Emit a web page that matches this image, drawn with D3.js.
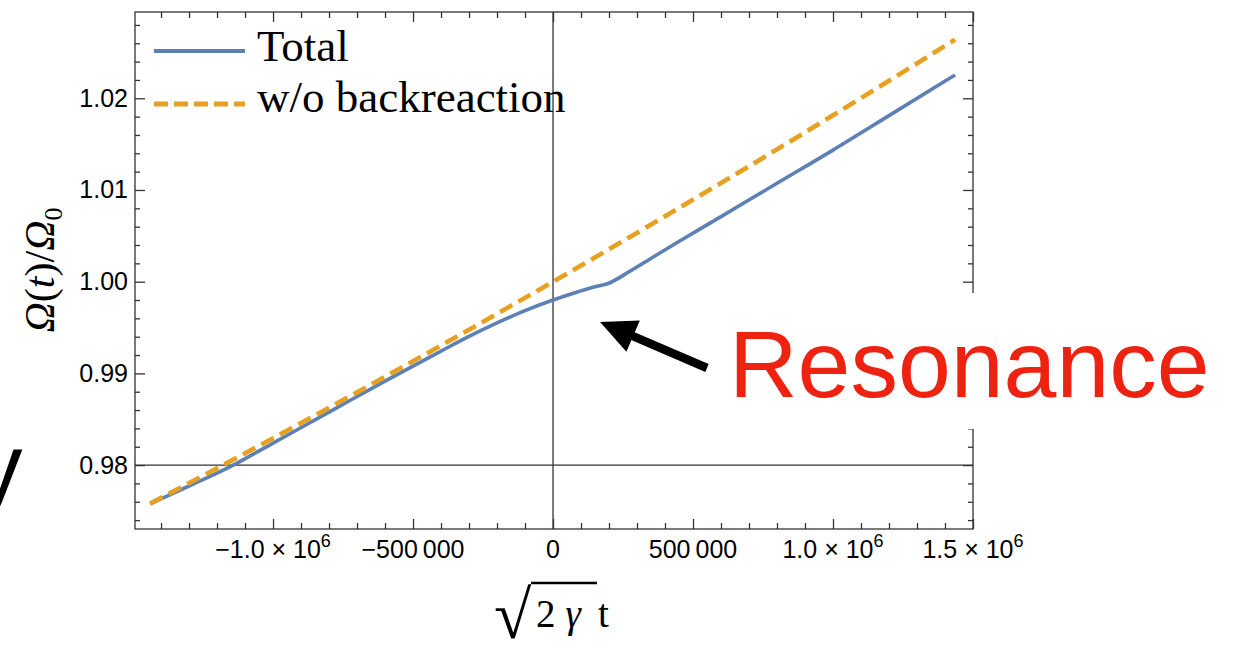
<!DOCTYPE html>
<html>
<head>
<meta charset="utf-8">
<script src="https://cdn.jsdelivr.net/npm/d3@7"></script>
<style>
  html, body { margin: 0; padding: 0; background: #fff; }
  svg { display: block; }
</style>
</head>
<body>
<svg id="chart" width="1240" height="648"></svg>
<script>
// Ω(t)/Ω0 versus √(2γ) t, with and without backreaction
const tTotal = [-1439000, -1300000, -1142000, -1000000, -800000, -600000, -400000, -300000, -200000, -100000, 0, 90000, 150000, 192000, 275000, 358000, 454000, 600000, 800000, 1000000, 1200000, 1436000];
const omegaTotal = [0.97578, 0.97772, 0.98000, 0.98240, 0.98577, 0.98916, 0.99243, 0.99403, 0.99550, 0.99684, 0.99800, 0.99891, 0.99945, 0.99975, 1.00115, 1.00270, 1.00447, 1.00710, 1.01073, 1.01435, 1.01811, 1.02254];

const tFree = [-1439000, -1200000, -1000000, -800000, -600000, -400000, -200000, 0, 200000, 400000, 600000, 800000, 1000000, 1200000, 1436000];
const omegaFree = [0.97580, 0.97965, 0.98293, 0.98626, 0.98963, 0.99304, 0.99650, 1.00000, 1.00354, 1.00713, 1.01076, 1.01443, 1.01815, 1.02191, 1.02640];

const seriesNames = ["Total", "w/o backreaction"];

const xMajorTicks = [-1000000, -500000, 0, 500000, 1000000, 1500000];
const xTickLabels = ["\u22121.0 \u00d7 10^6", "\u2212500\u2009000", "0", "500\u2009000", "1.0 \u00d7 10^6", "1.5 \u00d7 10^6"];
const yMajorTicks = [0.98, 0.99, 1.00, 1.01, 1.02];
const yTickLabels = ["0.98", "0.99", "1.00", "1.01", "1.02"];

// annotation arrow (tail → head) in data units
const arrowFrom = [550000, 0.99059];
const arrowTo = [168000, 0.99561];

const svg = d3.select("#chart");
const frame = { left: 135, right: 973, top: 12, bottom: 529 };

const x = d3.scaleLinear().domain([-1493000, 1500000]).range([frame.left, frame.right]);
const y = d3.scaleLinear().domain([0.97303, 1.02941]).range([frame.bottom, frame.top]);

const frameColor = "#333";
const sansFont = "'Liberation Sans', Arial, Helvetica, sans-serif";
const serifFont = "'Liberation Serif', 'Times New Roman', serif";

// stray glyph from the surrounding slide, cut by the left edge
svg.append("text")
  .attr("x", -25).attr("y", 499)
  .attr("font-family", sansFont).attr("font-size", 95)
  .attr("fill", "#000")
  .text("y");

// minor tick positions
const xMinor = d3.range(-1400000, 1500001, 100000).filter(v => !xMajorTicks.some(m => Math.abs(m - v) < 1));
const yMinor = d3.range(0, 28).map(i => +(0.974 + i * 0.002).toFixed(3)).filter(v => !yMajorTicks.some(m => Math.abs(m - v) < 1e-6));

function styleAxis(g) {
  g.select(".domain").remove();
  g.selectAll(".tick line").attr("stroke", frameColor).attr("stroke-width", 1.3);
}

// ticks on all four sides, pointing inward
const axes = svg.append("g");
axes.append("g").attr("transform", `translate(0,${frame.bottom})`)
  .call(d3.axisBottom(x).tickValues(xMajorTicks).tickSize(-10).tickFormat("")).call(styleAxis);
axes.append("g").attr("transform", `translate(0,${frame.bottom})`)
  .call(d3.axisBottom(x).tickValues(xMinor).tickSize(-6).tickFormat("")).call(styleAxis);
axes.append("g").attr("transform", `translate(0,${frame.top})`)
  .call(d3.axisTop(x).tickValues(xMajorTicks).tickSize(-10).tickFormat("")).call(styleAxis);
axes.append("g").attr("transform", `translate(0,${frame.top})`)
  .call(d3.axisTop(x).tickValues(xMinor).tickSize(-6).tickFormat("")).call(styleAxis);

const yAxisLeft = axes.append("g").attr("transform", `translate(${frame.left},0)`)
  .call(d3.axisLeft(y).tickValues(yMajorTicks).tickSize(-10).tickPadding(7)
    .tickFormat((d, i) => yTickLabels[i])).call(styleAxis);
yAxisLeft.selectAll(".tick text")
  .attr("font-family", sansFont).attr("font-size", 25).attr("fill", "#000");
axes.append("g").attr("transform", `translate(${frame.left},0)`)
  .call(d3.axisLeft(y).tickValues(yMinor).tickSize(-5).tickFormat("")).call(styleAxis);
axes.append("g").attr("transform", `translate(${frame.right},0)`)
  .call(d3.axisRight(y).tickValues(yMajorTicks).tickSize(-10).tickFormat("")).call(styleAxis);
axes.append("g").attr("transform", `translate(${frame.right},0)`)
  .call(d3.axisRight(y).tickValues(yMinor).tickSize(-5).tickFormat("")).call(styleAxis);

// frame
svg.append("rect")
  .attr("x", frame.left).attr("y", frame.top)
  .attr("width", frame.right - frame.left).attr("height", frame.bottom - frame.top)
  .attr("fill", "none").attr("stroke", frameColor).attr("stroke-width", 1.3);

// axes through the origin (0, 0.98)
svg.append("line")
  .attr("x1", x(0)).attr("x2", x(0)).attr("y1", frame.top).attr("y2", frame.bottom)
  .attr("stroke", frameColor).attr("stroke-width", 1.3);
svg.append("line")
  .attr("x1", frame.left).attr("x2", frame.right).attr("y1", y(0.98)).attr("y2", y(0.98))
  .attr("stroke", frameColor).attr("stroke-width", 1.3);

// x tick labels (with superscript exponents)
const xl = svg.append("g");
xMajorTicks.forEach((v, i) => {
  const [base, sup] = xTickLabels[i].split("^");
  const t = xl.append("text")
    .attr("x", x(v)).attr("y", 558)
    .attr("text-anchor", "middle")
    .attr("font-family", sansFont).attr("font-size", 25).attr("fill", "#000");
  t.append("tspan").text(base);
  if (sup) t.append("tspan").attr("dy", -11).attr("font-size", 18).text(sup);
});

// curves
const blue = "#5e81b5", orange = "#e8a020";
const line = d3.line().x(d => x(d[0])).y(d => y(d[1])).curve(d3.curveMonotoneX);

svg.append("path")
  .datum(d3.zip(tTotal, omegaTotal))
  .attr("d", line).attr("fill", "none")
  .attr("stroke", blue).attr("stroke-width", 3.6).attr("stroke-linejoin", "round");
svg.append("path")
  .datum(d3.zip(tFree, omegaFree))
  .attr("d", line).attr("fill", "none")
  .attr("stroke", orange).attr("stroke-width", 4.6).attr("stroke-dasharray", "14,7");

// legend
const legend = svg.append("g");
[[blue, null, 3.8], [orange, "14,6", 4.8]].forEach(([c, dash, w], i) => {
  const ly = 51 + i * 53;
  legend.append("line")
    .attr("x1", 154).attr("x2", 245).attr("y1", ly).attr("y2", ly)
    .attr("stroke", c).attr("stroke-width", w).attr("stroke-dasharray", dash);
  legend.append("text")
    .attr("x", 257).attr("y", ly + 10 - i * 2)
    .attr("font-family", serifFont).attr("font-size", 45).attr("fill", "#000")
    .text(seriesNames[i]);
});

// y axis title Ω(t)/Ω0
const yt = svg.append("text")
  .attr("transform", "translate(54,270) rotate(-90)")
  .attr("text-anchor", "middle")
  .attr("font-family", serifFont).attr("font-size", 42).attr("fill", "#000");
yt.append("tspan").attr("font-style", "italic").text("\u03a9");
yt.append("tspan").text("(");
yt.append("tspan").attr("font-style", "italic").text("t");
yt.append("tspan").text(")/");
yt.append("tspan").attr("font-style", "italic").text("\u03a9");
yt.append("tspan").attr("font-size", 26).attr("dy", 8).text("0");

// x axis title √(2γ) t
const xt = svg.append("g");
xt.append("text")
  .attr("x", 494).attr("y", 638)
  .attr("font-family", serifFont).attr("font-size", 68).attr("fill", "#000")
  .text("\u221a");
xt.append("line")
  .attr("x1", 531).attr("x2", 597).attr("y1", 583).attr("y2", 583)
  .attr("stroke", "#000").attr("stroke-width", 2.4);
const xtt = xt.append("text")
  .attr("x", 536).attr("y", 627)
  .attr("font-family", serifFont).attr("font-size", 39).attr("fill", "#000");
xtt.append("tspan").text("2");
xtt.append("tspan").attr("dx", 10).attr("font-style", "italic").text("\u03b3");
xtt.append("tspan").attr("dx", 17).text("t");

// annotation: white box breaking the right frame, arrow and label
svg.append("rect")
  .attr("x", 715).attr("y", 293).attr("width", 525).attr("height", 136)
  .attr("fill", "#fff");

const [ax0, ay0] = [x(arrowFrom[0]), y(arrowFrom[1])];
const [ax1, ay1] = [x(arrowTo[0]), y(arrowTo[1])];
const ang = Math.atan2(ay1 - ay0, ax1 - ax0);
const headLen = 36, headHalf = 17;
const bx = ax1 - headLen * Math.cos(ang), by = ay1 - headLen * Math.sin(ang);
svg.append("line")
  .attr("x1", ax0).attr("y1", ay0).attr("x2", bx + 4 * Math.cos(ang)).attr("y2", by + 4 * Math.sin(ang))
  .attr("stroke", "#000").attr("stroke-width", 8.5);
svg.append("path")
  .attr("d", d3.line()([
    [ax1, ay1],
    [bx + headHalf * Math.sin(ang), by - headHalf * Math.cos(ang)],
    [bx - headHalf * Math.sin(ang), by + headHalf * Math.cos(ang)]
  ]) + "Z")
  .attr("fill", "#000");

svg.append("text")
  .attr("x", 729).attr("y", 397)
  .attr("font-family", sansFont).attr("font-size", 95).attr("fill", "#ee2211")
  .text("Resonance");
</script>
</body>
</html>
